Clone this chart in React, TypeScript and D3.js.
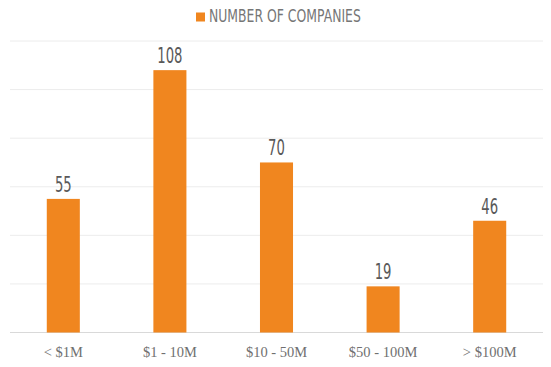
import { useEffect, useRef } from 'react'
import * as d3 from 'd3'

const categories = ['< $1M', '$1 - 10M', '$10 - 50M', '$50 - 100M', '> $100M']
const companies = [55, 108, 70, 19, 46]
const gridTicks = [0, 20, 40, 60, 80, 100, 120]
const seriesName = 'NUMBER OF COMPANIES'

const narrow = '"DejaVu Sans", sans-serif'

export default function App() {
  const ref = useRef<SVGSVGElement>(null)
  const width = 551
  const height = 367

  useEffect(() => {
    const el = ref.current
    if (!el) return
    const svg = d3.select(el)
    svg.selectAll('*').remove()

    const margin = { top: 41, right: 8, bottom: 34.5, left: 10 }
    const w = width - margin.left - margin.right
    const h = height - margin.top - margin.bottom
    const g = svg.append('g').attr('transform', `translate(${margin.left},${margin.top})`)

    const x = d3.scaleBand().domain(categories).range([0, w])
    const y = d3.scaleLinear().domain([0, 120]).range([h, 0])
    const barW = x.step() * 0.31

    g.selectAll('line.grid')
      .data(gridTicks)
      .join('line')
      .attr('class', 'grid')
      .attr('x1', 0)
      .attr('x2', w)
      .attr('y1', (d) => y(d))
      .attr('y2', (d) => y(d))
      .attr('stroke', (d) => (d === 0 ? '#d9d9d9' : '#ececec'))
      .attr('stroke-width', 1)

    const rows = categories.map((c, i) => ({ c, v: companies[i] }))

    g.selectAll('rect.bar')
      .data(rows)
      .join('rect')
      .attr('class', 'bar')
      .attr('x', (d) => x(d.c)! + x.bandwidth() / 2 - barW / 2)
      .attr('y', (d) => y(d.v))
      .attr('width', barW)
      .attr('height', (d) => y(0) - y(d.v))
      .attr('fill', '#f0861f')

    // condensed look: squeeze the glyphs horizontally
    g.selectAll('text.val')
      .data(rows)
      .join('text')
      .attr('class', 'val')
      .attr('transform', (d) => `translate(${x(d.c)! + x.bandwidth() / 2},${y(d.v) - 7}) scale(0.6,1)`)
      .attr('text-anchor', 'middle')
      .attr('font-family', narrow)
      .attr('font-size', 22)
      .attr('fill', '#595959')
      .text((d) => d.v)

    g.selectAll('text.cat')
      .data(categories)
      .join('text')
      .attr('class', 'cat')
      .attr('x', (d) => x(d)! + x.bandwidth() / 2)
      .attr('y', h + 24)
      .attr('text-anchor', 'middle')
      .attr('font-family', '"Liberation Serif", serif')
      .attr('font-size', 14.5)
      .attr('fill', '#707070')
      .text((d) => d)

    const legend = svg.append('g')
    legend.append('rect').attr('x', 196).attr('y', 12.5).attr('width', 9).attr('height', 9).attr('fill', '#f0861f')
    legend
      .append('text')
      .attr('transform', 'translate(209,22.3) scale(0.71,1)')
      .attr('font-family', narrow)
      .attr('font-size', 17.5)
      .attr('fill', '#767676')
      .text(seriesName)
  }, [])

  return <svg ref={ref} width={width} height={height} style={{ position: 'absolute', left: 0, top: 0 }} />
}
